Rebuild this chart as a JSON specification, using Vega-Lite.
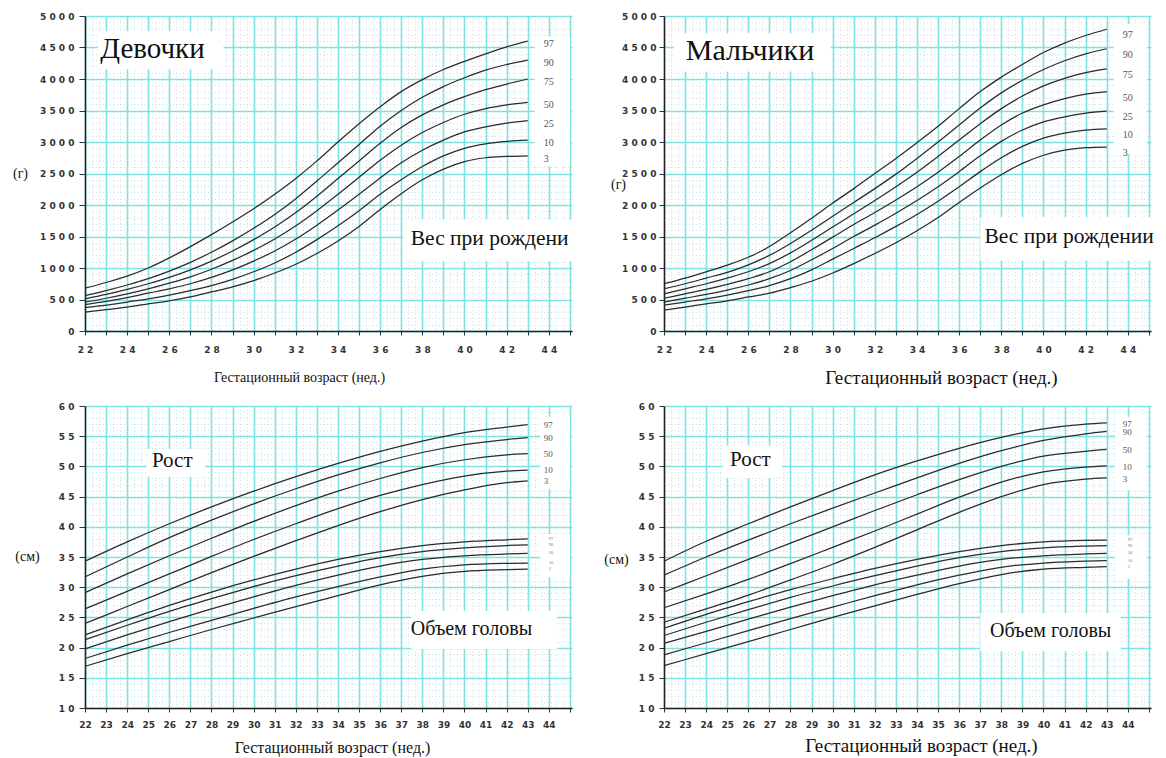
{
"$schema": "https://vega.github.io/schema/vega-lite/v6.json",
"background": "white",
"padding": {"left": 12, "top": 12, "right": 4, "bottom": 4},
"bounds": "flush",
"columns": 2,
"spacing": {"row": 75, "column": 92},
"config": {
 "view": {"stroke": null},
 "axis": {"domainColor": "#222", "domainWidth": 1.5, "tickColor": "#333", "labelFont": "DejaVu Sans", "labelFontWeight": "bold", "labelFontSize": 9, "labelColor": "#333", "titleFont": "Liberation Serif", "titleFontWeight": "normal", "titleColor": "#111", "labelOverlap": false, "labelBound": false, "labelFlush": false, "grid": true, "tickCount": 500}
},
"datasets": {
 "girlsW": [
  {"w":22,"3":300,"10":370,"25":420,"50":460,"75":510,"90":560,"97":680},
  {"w":23,"3":340,"10":410,"25":470,"50":520,"75":580,"90":640,"97":770},
  {"w":24,"3":380,"10":460,"25":530,"50":590,"75":660,"90":730,"97":870},
  {"w":25,"3":430,"10":510,"25":600,"50":670,"75":750,"90":830,"97":1000},
  {"w":26,"3":480,"10":570,"25":670,"50":760,"75":850,"90":950,"97":1160},
  {"w":27,"3":540,"10":640,"25":750,"50":860,"75":970,"90":1090,"97":1340},
  {"w":28,"3":620,"10":720,"25":850,"50":980,"75":1110,"90":1250,"97":1530},
  {"w":29,"3":700,"10":820,"25":970,"50":1120,"75":1270,"90":1430,"97":1730},
  {"w":30,"3":800,"10":940,"25":1110,"50":1280,"75":1450,"90":1630,"97":1940},
  {"w":31,"3":920,"10":1080,"25":1270,"50":1460,"75":1650,"90":1850,"97":2170},
  {"w":32,"3":1060,"10":1250,"25":1460,"50":1670,"75":1880,"90":2100,"97":2420},
  {"w":33,"3":1230,"10":1450,"25":1680,"50":1910,"75":2140,"90":2380,"97":2700},
  {"w":34,"3":1430,"10":1670,"25":1920,"50":2170,"75":2420,"90":2670,"97":3000},
  {"w":35,"3":1660,"10":1910,"25":2170,"50":2440,"75":2700,"90":2960,"97":3290},
  {"w":36,"3":1930,"10":2170,"25":2430,"50":2710,"75":2980,"90":3250,"97":3560},
  {"w":37,"3":2180,"10":2400,"25":2670,"50":2950,"75":3230,"90":3500,"97":3800},
  {"w":38,"3":2400,"10":2610,"25":2870,"50":3150,"75":3430,"90":3710,"97":3990},
  {"w":39,"3":2570,"10":2780,"25":3030,"50":3310,"75":3590,"90":3880,"97":4150},
  {"w":40,"3":2690,"10":2900,"25":3160,"50":3440,"75":3720,"90":4020,"97":4280},
  {"w":41,"3":2750,"10":2970,"25":3240,"50":3530,"75":3830,"90":4140,"97":4400},
  {"w":42,"3":2770,"10":3010,"25":3300,"50":3590,"75":3920,"90":4230,"97":4510},
  {"w":43,"3":2780,"10":3030,"25":3340,"50":3630,"75":4000,"90":4300,"97":4600}
 ],
 "boysW": [
  {"w":22,"3":330,"10":410,"25":460,"50":520,"75":590,"90":670,"97":750},
  {"w":23,"3":380,"10":460,"25":520,"50":590,"75":670,"90":750,"97":840},
  {"w":24,"3":430,"10":510,"25":580,"50":660,"75":750,"90":840,"97":940},
  {"w":25,"3":480,"10":570,"25":650,"50":740,"75":840,"90":930,"97":1045},
  {"w":26,"3":540,"10":640,"25":730,"50":830,"75":940,"90":1050,"97":1170},
  {"w":27,"3":600,"10":720,"25":830,"50":940,"75":1070,"90":1200,"97":1340},
  {"w":28,"3":690,"10":830,"25":960,"50":1100,"75":1240,"90":1390,"97":1560},
  {"w":29,"3":790,"10":970,"25":1130,"50":1290,"75":1440,"90":1600,"97":1790},
  {"w":30,"3":920,"10":1140,"25":1310,"50":1490,"75":1650,"90":1820,"97":2030},
  {"w":31,"3":1070,"10":1310,"25":1500,"50":1690,"75":1860,"90":2040,"97":2260},
  {"w":32,"3":1230,"10":1480,"25":1680,"50":1880,"75":2070,"90":2260,"97":2500},
  {"w":33,"3":1400,"10":1660,"25":1870,"50":2080,"75":2290,"90":2490,"97":2740},
  {"w":34,"3":1590,"10":1850,"25":2070,"50":2290,"75":2520,"90":2740,"97":2990},
  {"w":35,"3":1800,"10":2060,"25":2290,"50":2520,"75":2770,"90":3000,"97":3250},
  {"w":36,"3":2040,"10":2290,"25":2530,"50":2770,"75":3030,"90":3270,"97":3530},
  {"w":37,"3":2270,"10":2530,"25":2780,"50":3030,"75":3290,"90":3540,"97":3800},
  {"w":38,"3":2480,"10":2750,"25":3010,"50":3270,"75":3530,"90":3780,"97":4030},
  {"w":39,"3":2660,"10":2930,"25":3190,"50":3460,"75":3730,"90":3980,"97":4230},
  {"w":40,"3":2790,"10":3060,"25":3320,"50":3590,"75":3890,"90":4150,"97":4420},
  {"w":41,"3":2870,"10":3140,"25":3400,"50":3690,"75":4010,"90":4290,"97":4570},
  {"w":42,"3":2910,"10":3190,"25":3460,"50":3760,"75":4100,"90":4400,"97":4690},
  {"w":43,"3":2920,"10":3210,"25":3490,"50":3800,"75":4160,"90":4480,"97":4790}
 ],
 "girlsL": [
  {"w":22,"3":24.0,"10":26.4,"50":29.1,"90":31.7,"97":34.3},
  {"w":24,"3":26.8,"10":29.3,"50":32.2,"90":35.0,"97":37.5},
  {"w":26,"3":29.6,"10":32.2,"50":35.2,"90":38.2,"97":40.5},
  {"w":28,"3":32.4,"10":35.1,"50":38.1,"90":41.1,"97":43.3},
  {"w":30,"3":35.1,"10":37.9,"50":40.9,"90":43.8,"97":45.9},
  {"w":32,"3":37.7,"10":40.5,"50":43.5,"90":46.3,"97":48.3},
  {"w":34,"3":40.2,"10":43.0,"50":45.9,"90":48.6,"97":50.5},
  {"w":36,"3":42.5,"10":45.2,"50":48.0,"90":50.6,"97":52.5},
  {"w":38,"3":44.5,"10":47.0,"50":49.8,"90":52.3,"97":54.2},
  {"w":40,"3":46.1,"10":48.4,"50":51.1,"90":53.6,"97":55.6},
  {"w":42,"3":47.3,"10":49.2,"50":51.9,"90":54.45,"97":56.5},
  {"w":43,"3":47.6,"10":49.4,"50":52.1,"90":54.75,"97":56.9}
 ],
 "girlsH": [
  {"w":22,"3":16.9,"10":18.2,"50":19.8,"90":21.3,"97":22.1},
  {"w":24,"3":19.0,"10":20.4,"50":22.1,"90":23.7,"97":24.6},
  {"w":26,"3":21.0,"10":22.5,"50":24.3,"90":26.0,"97":27.0},
  {"w":28,"3":23.0,"10":24.5,"50":26.4,"90":28.1,"97":29.2},
  {"w":30,"3":24.9,"10":26.5,"50":28.4,"90":30.1,"97":31.2},
  {"w":32,"3":26.8,"10":28.4,"50":30.3,"90":31.9,"97":33.0},
  {"w":34,"3":28.6,"10":30.1,"50":32.0,"90":33.5,"97":34.6},
  {"w":36,"3":30.4,"10":31.7,"50":33.5,"90":34.9,"97":35.9},
  {"w":38,"3":31.8,"10":33.0,"50":34.6,"90":35.9,"97":36.9},
  {"w":40,"3":32.6,"10":33.7,"50":35.2,"90":36.5,"97":37.5},
  {"w":42,"3":32.9,"10":33.95,"50":35.5,"90":36.9,"97":37.85},
  {"w":43,"3":33.0,"10":34.0,"50":35.6,"90":37.0,"97":38.0}
 ],
 "boysL": [
  {"w":22,"3":24.2,"10":26.6,"50":29.2,"90":32.0,"97":34.3},
  {"w":24,"3":26.4,"10":28.9,"50":31.9,"90":35.0,"97":37.6},
  {"w":26,"3":28.7,"10":31.3,"50":34.6,"90":37.8,"97":40.5},
  {"w":28,"3":31.2,"10":33.9,"50":37.3,"90":40.5,"97":43.3},
  {"w":30,"3":33.8,"10":36.6,"50":40.0,"90":43.1,"97":46.0},
  {"w":32,"3":36.6,"10":39.3,"50":42.7,"90":45.6,"97":48.6},
  {"w":34,"3":39.5,"10":42.1,"50":45.3,"90":48.1,"97":50.9},
  {"w":36,"3":42.4,"10":44.9,"50":47.8,"90":50.5,"97":53.0},
  {"w":38,"3":45.0,"10":47.4,"50":50.0,"90":52.6,"97":54.8},
  {"w":40,"3":47.0,"10":49.1,"50":51.7,"90":54.3,"97":56.2},
  {"w":42,"3":47.9,"10":49.9,"50":52.5,"90":55.4,"97":57.0},
  {"w":43,"3":48.1,"10":50.1,"50":52.8,"90":55.8,"97":57.2}
 ],
 "boysH": [
  {"w":22,"3":17.0,"10":18.8,"50":20.7,"90":22.0,"97":23.2},
  {"w":24,"3":19.0,"10":20.8,"50":22.7,"90":24.2,"97":25.5},
  {"w":26,"3":21.0,"10":22.8,"50":24.7,"90":26.3,"97":27.6},
  {"w":28,"3":23.0,"10":24.8,"50":26.7,"90":28.3,"97":29.6},
  {"w":30,"3":25.0,"10":26.7,"50":28.6,"90":30.2,"97":31.4},
  {"w":32,"3":26.9,"10":28.6,"50":30.4,"90":31.9,"97":33.1},
  {"w":34,"3":28.8,"10":30.4,"50":32.0,"90":33.5,"97":34.6},
  {"w":36,"3":30.6,"10":32.0,"50":33.5,"90":34.9,"97":35.9},
  {"w":38,"3":32.1,"10":33.3,"50":34.6,"90":35.9,"97":36.9},
  {"w":40,"3":33.0,"10":34.0,"50":35.2,"90":36.5,"97":37.5},
  {"w":42,"3":33.3,"10":34.3,"50":35.5,"90":36.8,"97":37.75},
  {"w":43,"3":33.4,"10":34.4,"50":35.6,"90":36.9,"97":37.8}
 ]
},
"concat": [
 {
  "width": 487, "height": 315,
  "layer": [
   {"data":{"name":"girlsW"},"transform":[{"fold":["3","10","25","50","75","90","97"],"as":["pct","v"]}],
    "mark":{"type":"line","interpolate":"monotone","stroke":"#2b2b2b","strokeWidth":1.25},
    "encoding":{
     "x":{"field":"w","type":"quantitative","scale":{"domain":[22,45.1],"nice":false,"zero":false},
      "axis":{"values":[22,22.333,22.667,23,23.333,23.667,24,24.333,24.667,25,25.333,25.667,26,26.333,26.667,27,27.333,27.667,28,28.333,28.667,29,29.333,29.667,30,30.333,30.667,31,31.333,31.667,32,32.333,32.667,33,33.333,33.667,34,34.333,34.667,35,35.333,35.667,36,36.333,36.667,37,37.333,37.667,38,38.333,38.667,39,39.333,39.667,40,40.333,40.667,41,41.333,41.667,42,42.333,42.667,43,43.333,43.667,44,44.333,44.667,45],
       "tickCount":500,
       "title":"Гестационный возраст (нед.)","titleFontSize":14,"titleX":214,"titleY":46,"titleBaseline":"middle","titleAlign":"center",
       "gridColor":{"condition":{"test":"datum.value % 1 === 0","value":"#7fe2e2"},"value":"#b6dcdc"},
       "gridWidth":{"condition":{"test":"datum.value % 1 === 0","value":1.6},"value":0.8},
       "gridDash":{"condition":{"test":"datum.value % 1 === 0","value":[]},"value":[1,2.5]},
       "tickOpacity":{"condition":{"test":"datum.value % 1 === 0","value":1},"value":0},
       "tickSize":4,"labelPadding":10,
       "labelExpr":"datum.value % 2 === 0 ? join(split(format(datum.value, 'd'), ''), ' ') : ''"}},
     "y":{"field":"v","type":"quantitative","scale":{"domain":[0,5000],"nice":false},
      "axis":{"values":[0,100,200,300,400,500,600,700,800,900,1000,1100,1200,1300,1400,1500,1600,1700,1800,1900,2000,2100,2200,2300,2400,2500,2600,2700,2800,2900,3000,3100,3200,3300,3400,3500,3600,3700,3800,3900,4000,4100,4200,4300,4400,4500,4600,4700,4800,4900,5000],
       "tickCount":500,
       "title":"(г)","titleAngle":0,"titleX":-65,"titleY":157,"titleFontSize":14,"titleAlign":"center","titleBaseline":"middle",
       "gridColor":{"condition":{"test":"datum.value % 500 === 0","value":"#7fe2e2"},"value":"#b6dcdc"},
       "gridWidth":{"condition":{"test":"datum.value % 500 === 0","value":1.6},"value":0.8},
       "gridDash":{"condition":{"test":"datum.value % 500 === 0","value":[]},"value":[1,2.5]},
       "tickOpacity":{"condition":{"test":"datum.value % 500 === 0","value":1},"value":0},
       "tickSize":6,"labelPadding":5,
       "labelExpr":"datum.value % 500 === 0 ? join(split(format(datum.value, 'd'), ''), ' ') : ''"}},
     "detail":{"field":"pct"}}},
   {"data":{"values":[{}]},"mark":{"type":"rect","fill":"white"},"encoding":{"x":{"datum":22.62,"type":"quantitative"},"x2":{"datum":28.57},"y":{"datum":4757,"type":"quantitative"},"y2":{"datum":4154}}},
   {"data":{"values":[{}]},"mark":{"type":"rect","fill":"white"},"encoding":{"x":{"datum":37.1,"type":"quantitative"},"x2":{"datum":45.1},"y":{"datum":1770,"type":"quantitative"},"y2":{"datum":1106}}},
   {"data":{"values":[{}]},"mark":{"type":"rect","fill":"white"},"encoding":{"x":{"datum":43.33,"type":"quantitative"},"x2":{"datum":45.0},"y":{"datum":4678,"type":"quantitative"},"y2":{"datum":2614}}},
   {"data":{"name":"girlsW"},"transform":[{"filter":"datum.w === 43"},{"fold":["3","10","25","50","75","90","97"],"as":["pct","v"]}],
    "mark":{"type":"text","align":"left","baseline":"middle","dx":16,"dy":3,"font":"Liberation Serif","fontSize":10,"fill":"#555"},
    "encoding":{"x":{"field":"w","type":"quantitative"},"y":{"field":"v","type":"quantitative"},"text":{"field":"pct"}}},
   {"data":{"values":[{}]},"mark":{"type":"text","text":"Девочки","font":"Liberation Serif","fontSize":29,"fill":"#111","align":"center","baseline":"middle"},"encoding":{"x":{"datum":25.2,"type":"quantitative"},"y":{"datum":4470,"type":"quantitative"}}},
   {"data":{"values":[{}]},"mark":{"type":"text","text":"Вес при рождени","font":"Liberation Serif","fontSize":21.5,"fill":"#111","align":"left","baseline":"middle"},"encoding":{"x":{"datum":37.45,"type":"quantitative"},"y":{"datum":1456,"type":"quantitative"}}}
  ]
 },
 {
  "width": 487, "height": 315,
  "layer": [
   {"data":{"name":"boysW"},"transform":[{"fold":["3","10","25","50","75","90","97"],"as":["pct","v"]}],
    "mark":{"type":"line","interpolate":"monotone","stroke":"#2b2b2b","strokeWidth":1.25},
    "encoding":{
     "x":{"field":"w","type":"quantitative","scale":{"domain":[22,45.1],"nice":false,"zero":false},
      "axis":{"values":[22,22.333,22.667,23,23.333,23.667,24,24.333,24.667,25,25.333,25.667,26,26.333,26.667,27,27.333,27.667,28,28.333,28.667,29,29.333,29.667,30,30.333,30.667,31,31.333,31.667,32,32.333,32.667,33,33.333,33.667,34,34.333,34.667,35,35.333,35.667,36,36.333,36.667,37,37.333,37.667,38,38.333,38.667,39,39.333,39.667,40,40.333,40.667,41,41.333,41.667,42,42.333,42.667,43,43.333,43.667,44,44.333,44.667,45],
       "tickCount":500,
       "title":"Гестационный возраст (нед.)","titleFontSize":19,"titleX":277,"titleY":46,"titleBaseline":"middle","titleAlign":"center",
       "gridColor":{"condition":{"test":"datum.value % 1 === 0","value":"#7fe2e2"},"value":"#b6dcdc"},
       "gridWidth":{"condition":{"test":"datum.value % 1 === 0","value":1.6},"value":0.8},
       "gridDash":{"condition":{"test":"datum.value % 1 === 0","value":[]},"value":[1,2.5]},
       "tickOpacity":{"condition":{"test":"datum.value % 1 === 0","value":1},"value":0},
       "tickSize":4,"labelPadding":10,
       "labelExpr":"datum.value % 2 === 0 ? join(split(format(datum.value, 'd'), ''), ' ') : ''"}},
     "y":{"field":"v","type":"quantitative","scale":{"domain":[0,5000],"nice":false},
      "axis":{"values":[0,100,200,300,400,500,600,700,800,900,1000,1100,1200,1300,1400,1500,1600,1700,1800,1900,2000,2100,2200,2300,2400,2500,2600,2700,2800,2900,3000,3100,3200,3300,3400,3500,3600,3700,3800,3900,4000,4100,4200,4300,4400,4500,4600,4700,4800,4900,5000],
       "tickCount":500,
       "title":"(г)","titleAngle":0,"titleX":-46,"titleY":168,"titleFontSize":14,"titleAlign":"center","titleBaseline":"middle",
       "gridColor":{"condition":{"test":"datum.value % 500 === 0","value":"#7fe2e2"},"value":"#b6dcdc"},
       "gridWidth":{"condition":{"test":"datum.value % 500 === 0","value":1.6},"value":0.8},
       "gridDash":{"condition":{"test":"datum.value % 500 === 0","value":[]},"value":[1,2.5]},
       "tickOpacity":{"condition":{"test":"datum.value % 500 === 0","value":1},"value":0},
       "tickSize":5,"labelPadding":3,
       "labelExpr":"datum.value % 500 === 0 ? join(split(format(datum.value, 'd'), ''), ' ') : ''"}},
     "detail":{"field":"pct"}}},
   {"data":{"values":[{}]},"mark":{"type":"rect","fill":"white"},"encoding":{"x":{"datum":22.47,"type":"quantitative"},"x2":{"datum":29.9},"y":{"datum":4728,"type":"quantitative"},"y2":{"datum":4121}}},
   {"data":{"values":[{}]},"mark":{"type":"rect","fill":"white"},"encoding":{"x":{"datum":37.0,"type":"quantitative"},"x2":{"datum":45.1},"y":{"datum":1805,"type":"quantitative"},"y2":{"datum":1118}}},
   {"data":{"values":[{}]},"mark":{"type":"rect","fill":"white"},"encoding":{"x":{"datum":43.33,"type":"quantitative"},"x2":{"datum":44.9},"y":{"datum":4872,"type":"quantitative"},"y2":{"datum":2811}}},
   {"data":{"name":"boysW"},"transform":[{"filter":"datum.w === 43"},{"fold":["3","10","25","50","75","90","97"],"as":["pct","v"]}],
    "mark":{"type":"text","align":"left","baseline":"middle","dx":16,"dy":6,"font":"Liberation Serif","fontSize":10,"fill":"#555"},
    "encoding":{"x":{"field":"w","type":"quantitative"},"y":{"field":"v","type":"quantitative"},"text":{"field":"pct"}}},
   {"data":{"values":[{}]},"mark":{"type":"text","text":"Мальчики","font":"Liberation Serif","fontSize":30,"fill":"#111","align":"center","baseline":"middle"},"encoding":{"x":{"datum":26.08,"type":"quantitative"},"y":{"datum":4441,"type":"quantitative"}}},
   {"data":{"values":[{}]},"mark":{"type":"text","text":"Вес при рождении","font":"Liberation Serif","fontSize":21.5,"fill":"#111","align":"left","baseline":"middle"},"encoding":{"x":{"datum":37.2,"type":"quantitative"},"y":{"datum":1486,"type":"quantitative"}}}
  ]
 },
 {
  "width": 487, "height": 302,
  "layer": [
   {"data":{"name":"girlsL"},"transform":[{"fold":["3","10","50","90","97"],"as":["pct","v"]}],
    "mark":{"type":"line","interpolate":"monotone","stroke":"#2b2b2b","strokeWidth":1.25},
    "encoding":{
     "x":{"field":"w","type":"quantitative","scale":{"domain":[22,45.1],"nice":false,"zero":false},
      "axis":{"values":[22,22.333,22.667,23,23.333,23.667,24,24.333,24.667,25,25.333,25.667,26,26.333,26.667,27,27.333,27.667,28,28.333,28.667,29,29.333,29.667,30,30.333,30.667,31,31.333,31.667,32,32.333,32.667,33,33.333,33.667,34,34.333,34.667,35,35.333,35.667,36,36.333,36.667,37,37.333,37.667,38,38.333,38.667,39,39.333,39.667,40,40.333,40.667,41,41.333,41.667,42,42.333,42.667,43,43.333,43.667,44,44.333,44.667,45],
       "tickCount":500,
       "title":"Гестационный возраст (нед.)","titleFontSize":16,"titleX":247,"titleY":39,"titleBaseline":"middle","titleAlign":"center",
       "gridColor":{"condition":{"test":"datum.value % 1 === 0","value":"#7fe2e2"},"value":"#b6dcdc"},
       "gridWidth":{"condition":{"test":"datum.value % 1 === 0","value":1.6},"value":0.8},
       "gridDash":{"condition":{"test":"datum.value % 1 === 0","value":[]},"value":[1,2.5]},
       "tickOpacity":{"condition":{"test":"datum.value % 1 === 0","value":1},"value":0},
       "tickSize":4,"labelPadding":8,
       "labelExpr":"datum.value % 1 === 0 && datum.value <= 44 ? format(datum.value, 'd') : ''"}},
     "y":{"field":"v","type":"quantitative","scale":{"domain":[10,60],"nice":false,"zero":false},
      "axis":{"values":[10,11,12,13,14,15,16,17,18,19,20,21,22,23,24,25,26,27,28,29,30,31,32,33,34,35,36,37,38,39,40,41,42,43,44,45,46,47,48,49,50,51,52,53,54,55,56,57,58,59,60],
       "tickCount":500,
       "title":"(см)","titleAngle":0,"titleX":-58,"titleY":150,"titleFontSize":14,"titleAlign":"center","titleBaseline":"middle",
       "gridColor":{"condition":{"test":"datum.value % 5 === 0","value":"#7fe2e2"},"value":"#b6dcdc"},
       "gridWidth":{"condition":{"test":"datum.value % 5 === 0","value":1.6},"value":0.8},
       "gridDash":{"condition":{"test":"datum.value % 5 === 0","value":[]},"value":[1,2.5]},
       "tickOpacity":{"condition":{"test":"datum.value % 5 === 0","value":1},"value":0},
       "tickSize":6,"labelPadding":5,
       "labelExpr":"datum.value % 5 === 0 ? join(split(format(datum.value, 'd'), ''), ' ') : ''"}},
     "detail":{"field":"pct"}}},
   {"data":{"name":"girlsH"},"transform":[{"fold":["3","10","50","90","97"],"as":["pct","v"]}],
    "mark":{"type":"line","interpolate":"monotone","stroke":"#2b2b2b","strokeWidth":1.25},
    "encoding":{"x":{"field":"w","type":"quantitative"},"y":{"field":"v","type":"quantitative"},"detail":{"field":"pct"}}},
   {"data":{"values":[{}]},"mark":{"type":"rect","fill":"white"},"encoding":{"x":{"datum":24.9,"type":"quantitative"},"x2":{"datum":27.7},"y":{"datum":52.9,"type":"quantitative"},"y2":{"datum":48.3}}},
   {"data":{"values":[{}]},"mark":{"type":"rect","fill":"white"},"encoding":{"x":{"datum":37.48,"type":"quantitative"},"x2":{"datum":44.38},"y":{"datum":26.05,"type":"quantitative"},"y2":{"datum":19.75}}},
   {"data":{"values":[{}]},"mark":{"type":"rect","fill":"white"},"encoding":{"x":{"datum":43.6,"type":"quantitative"},"x2":{"datum":45.0},"y":{"datum":58.2,"type":"quantitative"},"y2":{"datum":46.3}}},
   {"data":{"values":[{}]},"mark":{"type":"rect","fill":"white"},"encoding":{"x":{"datum":43.6,"type":"quantitative"},"x2":{"datum":45.0},"y":{"datum":38.8,"type":"quantitative"},"y2":{"datum":31.7}}},
   {"data":{"name":"girlsL"},"transform":[{"filter":"datum.w === 43"},{"fold":["3","10","50","90","97"],"as":["pct","v"]}],
    "mark":{"type":"text","align":"left","baseline":"middle","dx":16,"dy":0,"font":"Liberation Serif","fontSize":9,"fill":"#555"},
    "encoding":{"x":{"field":"w","type":"quantitative"},"y":{"field":"v","type":"quantitative"},"text":{"field":"pct"}}},
   {"data":{"name":"girlsH"},"transform":[{"filter":"datum.w === 43"},{"fold":["3","10","50","90","97"],"as":["pct","v"]}],
    "mark":{"type":"text","align":"left","baseline":"middle","dx":21,"dy":0,"font":"Liberation Serif","fontSize":4.5,"fill":"#777"},
    "encoding":{"x":{"field":"w","type":"quantitative"},"y":{"field":"v","type":"quantitative"},"text":{"field":"pct"}}},
   {"data":{"values":[{}]},"mark":{"type":"text","text":"Рост","font":"Liberation Serif","fontSize":21,"fill":"#111","align":"center","baseline":"middle"},"encoding":{"x":{"datum":26.14,"type":"quantitative"},"y":{"datum":50.9,"type":"quantitative"}}},
   {"data":{"values":[{}]},"mark":{"type":"text","text":"Объем головы","font":"Liberation Serif","fontSize":20,"fill":"#111","align":"center","baseline":"middle"},"encoding":{"x":{"datum":40.33,"type":"quantitative"},"y":{"datum":23.07,"type":"quantitative"}}}
  ]
 },
 {
  "width": 487, "height": 302,
  "layer": [
   {"data":{"name":"boysL"},"transform":[{"fold":["3","10","50","90","97"],"as":["pct","v"]}],
    "mark":{"type":"line","interpolate":"monotone","stroke":"#2b2b2b","strokeWidth":1.25},
    "encoding":{
     "x":{"field":"w","type":"quantitative","scale":{"domain":[22,45.1],"nice":false,"zero":false},
      "axis":{"values":[22,22.333,22.667,23,23.333,23.667,24,24.333,24.667,25,25.333,25.667,26,26.333,26.667,27,27.333,27.667,28,28.333,28.667,29,29.333,29.667,30,30.333,30.667,31,31.333,31.667,32,32.333,32.667,33,33.333,33.667,34,34.333,34.667,35,35.333,35.667,36,36.333,36.667,37,37.333,37.667,38,38.333,38.667,39,39.333,39.667,40,40.333,40.667,41,41.333,41.667,42,42.333,42.667,43,43.333,43.667,44,44.333,44.667,45],
       "tickCount":500,
       "title":"Гестационный возраст (нед.)","titleFontSize":19,"titleX":257,"titleY":37,"titleBaseline":"middle","titleAlign":"center",
       "gridColor":{"condition":{"test":"datum.value % 1 === 0","value":"#7fe2e2"},"value":"#b6dcdc"},
       "gridWidth":{"condition":{"test":"datum.value % 1 === 0","value":1.6},"value":0.8},
       "gridDash":{"condition":{"test":"datum.value % 1 === 0","value":[]},"value":[1,2.5]},
       "tickOpacity":{"condition":{"test":"datum.value % 1 === 0","value":1},"value":0},
       "tickSize":4,"labelPadding":8,
       "labelExpr":"datum.value % 1 === 0 && datum.value <= 44 ? format(datum.value, 'd') : ''"}},
     "y":{"field":"v","type":"quantitative","scale":{"domain":[10,60],"nice":false,"zero":false},
      "axis":{"values":[10,11,12,13,14,15,16,17,18,19,20,21,22,23,24,25,26,27,28,29,30,31,32,33,34,35,36,37,38,39,40,41,42,43,44,45,46,47,48,49,50,51,52,53,54,55,56,57,58,59,60],
       "tickCount":500,
       "title":"(см)","titleAngle":0,"titleX":-48,"titleY":153,"titleFontSize":14,"titleAlign":"center","titleBaseline":"middle",
       "gridColor":{"condition":{"test":"datum.value % 5 === 0","value":"#7fe2e2"},"value":"#b6dcdc"},
       "gridWidth":{"condition":{"test":"datum.value % 5 === 0","value":1.6},"value":0.8},
       "gridDash":{"condition":{"test":"datum.value % 5 === 0","value":[]},"value":[1,2.5]},
       "tickOpacity":{"condition":{"test":"datum.value % 5 === 0","value":1},"value":0},
       "tickSize":5,"labelPadding":5,
       "labelExpr":"datum.value % 5 === 0 ? join(split(format(datum.value, 'd'), ''), ' ') : ''"}},
     "detail":{"field":"pct"}}},
   {"data":{"name":"boysH"},"transform":[{"fold":["3","10","50","90","97"],"as":["pct","v"]}],
    "mark":{"type":"line","interpolate":"monotone","stroke":"#2b2b2b","strokeWidth":1.25},
    "encoding":{"x":{"field":"w","type":"quantitative"},"y":{"field":"v","type":"quantitative"},"detail":{"field":"pct"}}},
   {"data":{"values":[{}]},"mark":{"type":"rect","fill":"white"},"encoding":{"x":{"datum":24.8,"type":"quantitative"},"x2":{"datum":27.6},"y":{"datum":53.4,"type":"quantitative"},"y2":{"datum":48.1}}},
   {"data":{"values":[{}]},"mark":{"type":"rect","fill":"white"},"encoding":{"x":{"datum":37.0,"type":"quantitative"},"x2":{"datum":43.66},"y":{"datum":25.7,"type":"quantitative"},"y2":{"datum":19.4}}},
   {"data":{"values":[{}]},"mark":{"type":"rect","fill":"white"},"encoding":{"x":{"datum":43.4,"type":"quantitative"},"x2":{"datum":44.9},"y":{"datum":58.2,"type":"quantitative"},"y2":{"datum":46.1}}},
   {"data":{"values":[{}]},"mark":{"type":"rect","fill":"white"},"encoding":{"x":{"datum":43.4,"type":"quantitative"},"x2":{"datum":44.9},"y":{"datum":38.6,"type":"quantitative"},"y2":{"datum":31.4}}},
   {"data":{"name":"boysL"},"transform":[{"filter":"datum.w === 43"},{"fold":["3","10","50","90","97"],"as":["pct","v"]}],
    "mark":{"type":"text","align":"left","baseline":"middle","dx":16,"dy":1,"font":"Liberation Serif","fontSize":9,"fill":"#555"},
    "encoding":{"x":{"field":"w","type":"quantitative"},"y":{"field":"v","type":"quantitative"},"text":{"field":"pct"}}},
   {"data":{"name":"boysH"},"transform":[{"filter":"datum.w === 43"},{"fold":["3","10","50","90","97"],"as":["pct","v"]}],
    "mark":{"type":"text","align":"left","baseline":"middle","dx":21,"dy":0,"font":"Liberation Serif","fontSize":4.5,"fill":"#777"},
    "encoding":{"x":{"field":"w","type":"quantitative"},"y":{"field":"v","type":"quantitative"},"text":{"field":"pct"}}},
   {"data":{"values":[{}]},"mark":{"type":"text","text":"Рост","font":"Liberation Serif","fontSize":21,"fill":"#111","align":"center","baseline":"middle"},"encoding":{"x":{"datum":26.1,"type":"quantitative"},"y":{"datum":51.0,"type":"quantitative"}}},
   {"data":{"values":[{}]},"mark":{"type":"text","text":"Объем головы","font":"Liberation Serif","fontSize":20,"fill":"#111","align":"center","baseline":"middle"},"encoding":{"x":{"datum":40.34,"type":"quantitative"},"y":{"datum":22.7,"type":"quantitative"}}}
  ]
 }
]
}
